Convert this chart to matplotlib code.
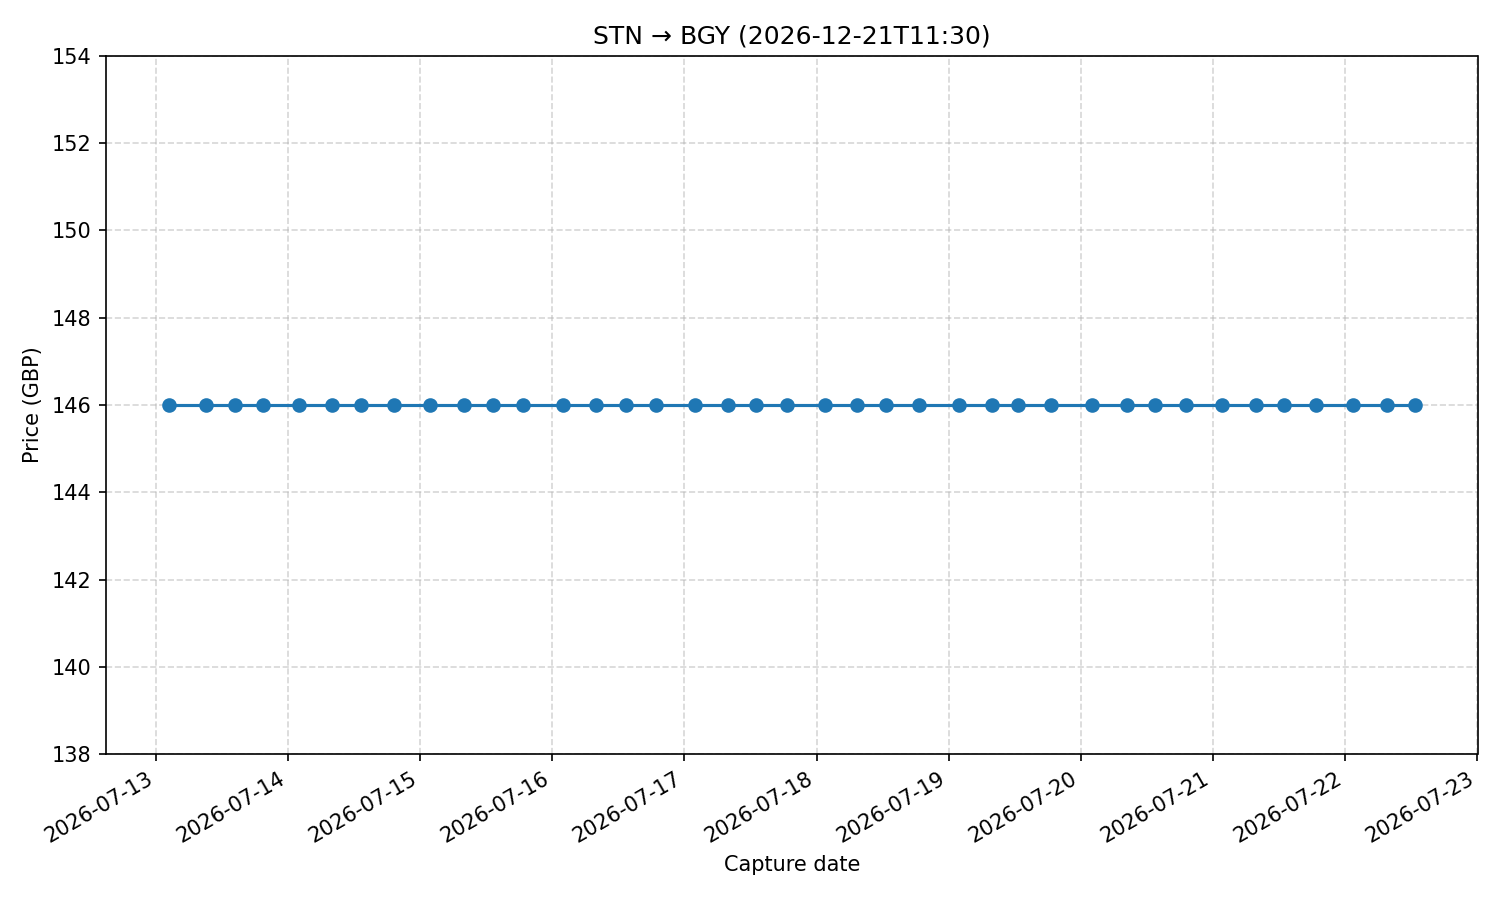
import pandas as pd
import matplotlib.pyplot as plt
import matplotlib.dates as mdates

capture_times = [
    '2026-07-13 02:20', '2026-07-13 09:05', '2026-07-13 14:20', '2026-07-13 19:30',
    '2026-07-14 02:00', '2026-07-14 08:00', '2026-07-14 13:15', '2026-07-14 19:15',
    '2026-07-15 01:50', '2026-07-15 08:00', '2026-07-15 13:15', '2026-07-15 18:40',
    '2026-07-16 02:00', '2026-07-16 08:00', '2026-07-16 13:25', '2026-07-16 18:55',
    '2026-07-17 02:00', '2026-07-17 07:50', '2026-07-17 13:05', '2026-07-17 18:40',
    '2026-07-18 01:35', '2026-07-18 07:25', '2026-07-18 12:40', '2026-07-18 18:40',
    '2026-07-19 01:50', '2026-07-19 07:50', '2026-07-19 12:40', '2026-07-19 18:40',
    '2026-07-20 02:00', '2026-07-20 08:25', '2026-07-20 13:25', '2026-07-20 19:05',
    '2026-07-21 01:35', '2026-07-21 07:50', '2026-07-21 12:55', '2026-07-21 18:40',
    '2026-07-22 01:25', '2026-07-22 07:35', '2026-07-22 12:40',
]
prices = [146] * len(capture_times)

dates = pd.to_datetime(capture_times)

fig, ax = plt.subplots(figsize=(10, 6), dpi=150)
ax.plot(dates, prices, marker='o', color='#1f77b4')
ax.set_ylim(138, 154)
ax.set_xlim(pd.Timestamp('2026-07-12 14:55'), pd.Timestamp('2026-07-23 00:05'))
ax.xaxis.set_major_locator(mdates.DayLocator())
ax.xaxis.set_major_formatter(mdates.DateFormatter('%Y-%m-%d'))
ax.set_title('STN → BGY (2026-12-21T11:30)')
ax.set_xlabel('Capture date')
ax.set_ylabel('Price (GBP)')
ax.grid(True, linestyle='--', alpha=0.5)
fig.autofmt_xdate()
plt.subplots_adjust(left=0.0707, right=0.985, top=0.938, bottom=0.162)
plt.savefig('out.png')
